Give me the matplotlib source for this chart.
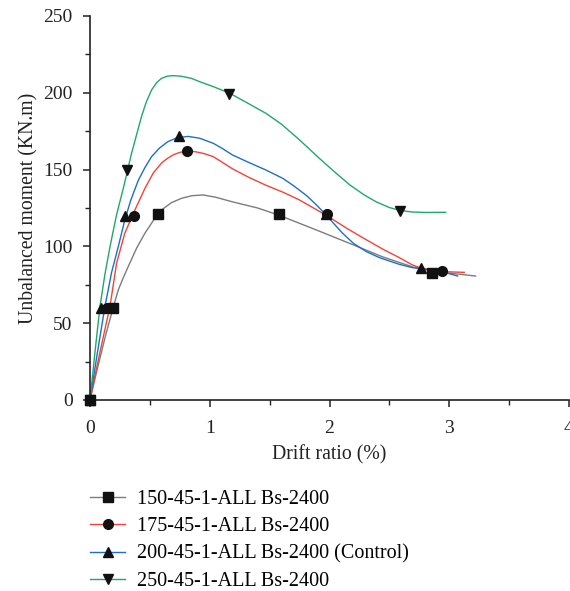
import matplotlib
matplotlib.use("Agg")
import matplotlib.pyplot as plt

plt.rcParams["font.family"] = ["Liberation Serif", "DejaVu Serif"]

# Series labels and colours
labels = [
    "150-45-1-ALL Bs-2400",
    "175-45-1-ALL Bs-2400",
    "200-45-1-ALL Bs-2400 (Control)",
    "250-45-1-ALL Bs-2400",
]
colors = ["#7c7c7c", "#f2433a", "#1d6fcb", "#20a86b"]
markers = ["s", "o", "^", "v"]

# Measured points (drift ratio %, unbalanced moment kN.m)
pts_150_x = [0, 0.19, 0.57, 1.58, 2.86]
pts_150_y = [0, 60, 121, 121, 83]
pts_175_x = [0, 0.14, 0.37, 0.81, 1.98, 2.94]
pts_175_y = [0, 60, 120, 162, 121, 84]
pts_200_x = [0, 0.09, 0.29, 0.74, 1.97, 2.76]
pts_200_y = [0, 60, 120, 172, 121, 86]
pts_250_x = [0, 0.31, 1.16, 2.59]
pts_250_y = [0, 150, 199, 123]

# Smoothed response curves
curve_150_x = [0, 0.06, 0.13, 0.20, 0.236, 0.28, 0.32, 0.39, 0.458, 0.53, 0.597, 0.68, 0.764,
               0.85, 0.944, 1.05, 1.19, 1.40, 1.575, 1.89, 2.167, 2.44, 2.70, 2.97, 3.22]
curve_150_y = [0, 20, 42, 62, 71.6, 80, 87, 99, 108.5, 117, 123.7, 128.5, 131.3,
               133, 133.5, 132, 129, 125, 120.4, 110.7, 102, 93.3, 86.5, 82.9, 80.7]
curve_175_x = [0, 0.08, 0.167, 0.222, 0.29, 0.375, 0.46, 0.53, 0.60, 0.65, 0.70, 0.75, 0.80,
               0.875, 0.95, 1.03, 1.11, 1.19, 1.33, 1.47, 1.62, 1.75, 1.97, 2.15, 2.31,
               2.45, 2.58, 2.69, 2.76, 2.83, 2.97, 3.125]
curve_175_y = [0, 30, 61, 89, 108.5, 123.7, 138, 148, 154.5, 157.5, 159.8, 161.2, 162,
               161.7, 160.5, 158.4, 154.5, 150.5, 144.8, 139.8, 135, 130.2, 120.4, 111.5, 104.2,
               98, 92.8, 88, 86, 84.8, 83.5, 83.1]
curve_200_x = [0, 0.06, 0.125, 0.18, 0.236, 0.29, 0.34, 0.403, 0.46, 0.514, 0.58, 0.65,
               0.73, 0.82, 0.917, 1.03, 1.11, 1.19, 1.33, 1.47, 1.61, 1.70, 1.81, 1.88,
               1.96, 2.04, 2.11, 2.20, 2.31, 2.42, 2.58, 2.69, 2.80, 2.92, 3.07]
curve_200_y = [0, 30, 61, 83, 99.8, 117, 130, 143, 151.5, 158.4, 164, 168.2,
               170.8, 171.6, 170.4, 167.1, 163.5, 159.5, 154.5, 149.7, 144.3, 139.5, 133, 127.8,
               121.5, 114.5, 108.5, 102, 96.5, 92.6, 88.4, 86.2, 85, 84, 80.7]
curve_250_x = [0, 0.04, 0.083, 0.125, 0.167, 0.22, 0.278, 0.347, 0.39, 0.43, 0.47, 0.514,
               0.555, 0.597, 0.645, 0.69, 0.76, 0.847, 0.917, 1.03, 1.167, 1.30, 1.47, 1.60,
               1.75, 1.92, 2.05, 2.17, 2.29, 2.39, 2.50, 2.59, 2.69, 2.80, 2.97]
curve_250_y = [0, 30, 60.8, 82, 99.8, 120, 137.8, 160.6, 173, 184.5, 194, 201.8,
               206.5, 209.4, 210.8, 211.2, 210.8, 209.4, 207.2, 204, 199.7, 194, 186.6, 179.5,
               169.3, 157, 148, 140, 133.5, 129, 125.3, 123.4, 122.4, 122.1, 122.2]

points_x = [pts_150_x, pts_175_x, pts_200_x, pts_250_x]
points_y = [pts_150_y, pts_175_y, pts_200_y, pts_250_y]
curves_x = [curve_150_x, curve_175_x, curve_200_x, curve_250_x]
curves_y = [curve_150_y, curve_175_y, curve_200_y, curve_250_y]

W, H = 570, 591
fig = plt.figure(figsize=(W / 100, H / 100), dpi=100)
ax = fig.add_axes([90 / W, 1 - 400 / H, 479 / W, 384 / H])

handles = []
for cx, cy, px, py, col, mk, lab in zip(curves_x, curves_y, points_x, points_y,
                                         colors, markers, labels):
    ax.plot(cx, cy, color=col, lw=1.0, zorder=2, solid_joinstyle="round")
    ax.plot(px, py, ls="none", marker=mk, ms=7, color="#111111", zorder=3, clip_on=False)
    h, = ax.plot([], [], color=col, lw=1.0, marker=mk, ms=7,
                 markerfacecolor="#111111", markeredgecolor="#111111", label=lab)
    handles.append(h)

ax.set_xlim(0, 4)
ax.set_ylim(0, 250)
ax.set_xticks([0, 1, 2, 3, 4])
ax.set_xticks([0.5, 1.5, 2.5, 3.5], minor=True)
ax.set_yticks([0, 50, 100, 150, 200, 250])
ax.set_yticks([25, 75, 125, 175, 225], minor=True)

for s in ("top", "right"):
    ax.spines[s].set_visible(False)
for s in ("left", "bottom"):
    ax.spines[s].set_linewidth(1.2)
    ax.spines[s].set_color("#222222")

ax.tick_params(which="major", direction="out", length=5, width=1.1, colors="#222222",
               labelsize=14, labelcolor="#222222")
ax.tick_params(which="minor", direction="out", length=3.5, width=1.0, colors="#222222")
ax.tick_params(axis="x", which="major", pad=9.5)
ax.tick_params(axis="y", which="major", pad=7.5)

ax.set_xlabel("Drift ratio (%)", fontsize=14.2, color="#222222", labelpad=6)
ax.set_ylabel("Unbalanced moment (KN.m)", fontsize=14.2, color="#222222", labelpad=3.5)

fig.legend(handles=handles, loc="upper left", bbox_to_anchor=(90 / W, 1 - 490 / H),
           frameon=False, fontsize=14.5, handlelength=1.75, handletextpad=0.6,
           labelspacing=0.4, borderpad=0, borderaxespad=0)

fig.savefig("out.png", dpi=100)
